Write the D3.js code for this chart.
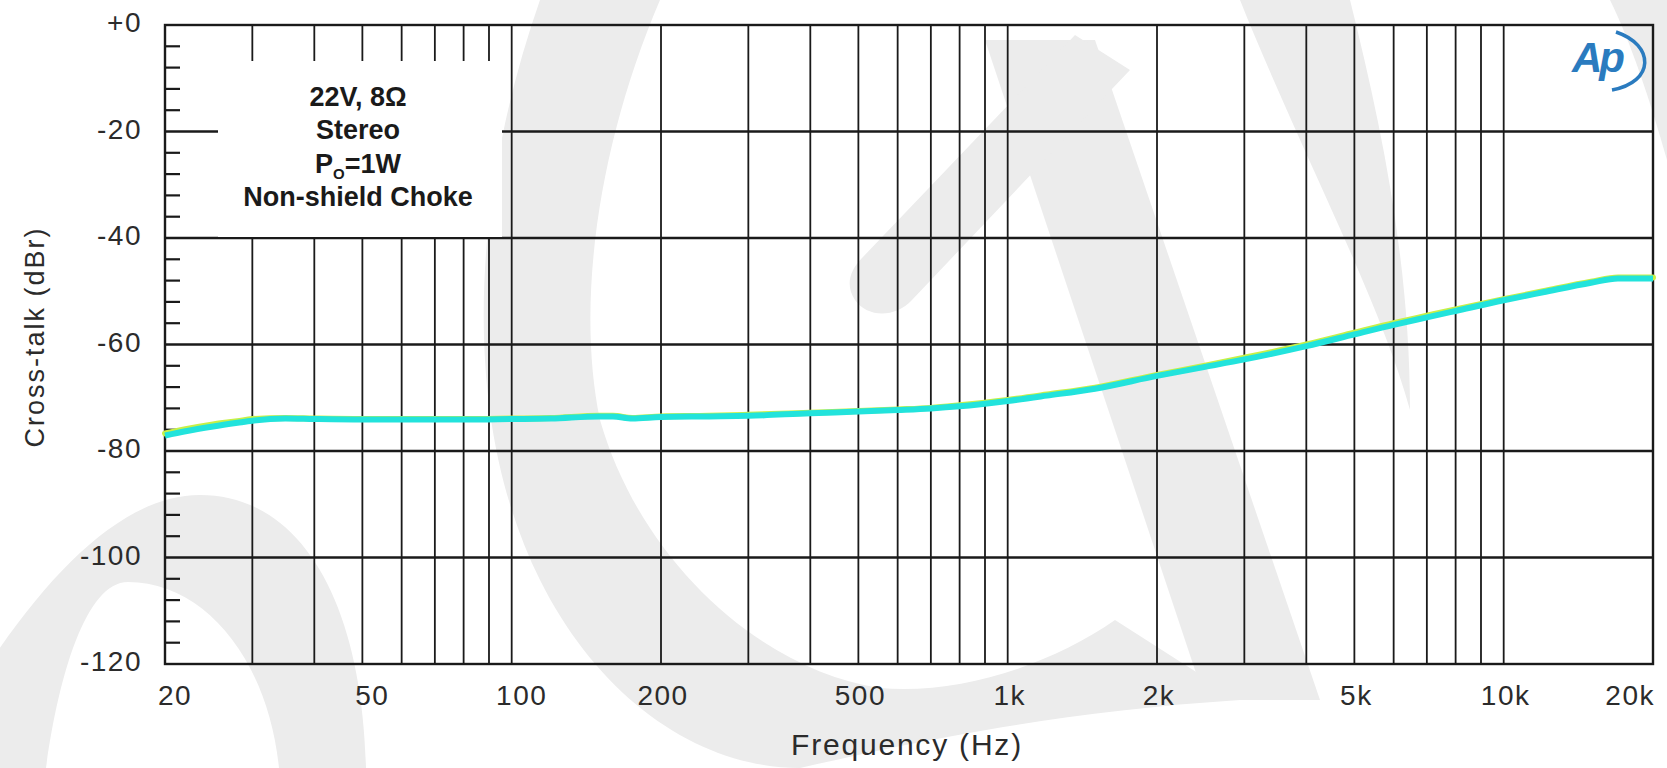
<!DOCTYPE html>
<html>
<head>
<meta charset="utf-8">
<script src="https://cdn.jsdelivr.net/npm/d3@7"></script>
<style>
  body { margin: 0; background: #fff; }
  svg { display: block; }
  text { font-family: "Liberation Sans", Arial, sans-serif; }
</style>
</head>
<body>
<svg id="chart" width="1667" height="768"></svg>
<script>
// ---- data ----
const freqs = [20, 22, 25, 28, 30, 35, 40, 50, 60, 80, 100, 120, 150, 160, 175, 200, 250, 300, 400, 500, 600, 700, 800, 1000, 1200, 1500, 2000, 2500, 3000, 4000, 5000, 6000, 7000, 8000, 10000, 12000, 15000, 17000, 20000];
// cyan trace (dBr)
const cyanDb = [-77.1, -76.3, -75.4, -74.7, -74.3, -73.9, -74.0, -74.1, -74.1, -74.1, -74.0, -73.9, -73.5, -73.5, -73.9, -73.6, -73.5, -73.4, -72.9, -72.6, -72.3, -72.0, -71.6, -70.6, -69.6, -68.3, -65.9, -64.2, -62.8, -60.3, -58.1, -56.3, -54.9, -53.7, -51.7, -50.2, -48.4, -47.6, -47.6];
// yellow-green trace (dBr), mostly hidden under the cyan one
const yellowDb = [-76.7, -75.9, -75.0, -74.4, -74.0, -73.8, -73.9, -74.0, -74.0, -74.0, -73.9, -73.8, -73.4, -73.4, -73.8, -73.5, -73.4, -73.2, -72.8, -72.5, -72.2, -71.9, -71.4, -70.4, -69.4, -68.1, -65.7, -64.0, -62.5, -60.0, -57.8, -56.0, -54.6, -53.4, -51.5, -50.0, -48.2, -47.4, -47.4];

const yTicks = [0, -20, -40, -60, -80, -100, -120];
const yTickLabels = ["+0", "-20", "-40", "-60", "-80", "-100", "-120"];
const xTicks = [20, 50, 100, 200, 500, 1000, 2000, 5000, 10000, 20000];
const xTickLabels = ["20", "50", "100", "200", "500", "1k", "2k", "5k", "10k", "20k"];
const infoLines = ["22V, 8\u03a9", "Stereo", "P|O|=1W", "Non-shield Choke"];

// ---- layout ----
const plotLeft = 165, plotRight = 1653, plotTop = 25, plotBottom = 664;

const svg = d3.select("#chart");

const x = d3.scaleLog().domain([20, 20000]).range([plotLeft, plotRight]);
const y = d3.scaleLinear().domain([0, -120]).range([plotTop, plotBottom]);

// watermark shapes in the background
const wm = svg.append("g").attr("fill", "#ececec");
wm.append("path").attr("d", "M -5,655 C 60,560 130,495 200,495 C 300,495 362,600 366,768 L 279,768 C 268,660 205,582 128,582 C 85,582 58,680 46,768 L -5,768 Z");
wm.append("path").attr("d", "M 540,0 C 470,200 460,420 540,580 C 600,700 700,768 800,768 C 900,745 1050,712 1240,700 L 1115,620 C 1050,665 960,695 880,688 C 760,670 640,560 600,420 C 575,300 600,140 660,0 Z");
wm.append("path").attr("d", "M 985,40 L 1095,40 L 1320,700 L 1205,700 Z");
wm.append("path").attr("d", "M 855,300 C 845,285 850,270 862,258 L 1075,35 L 1130,70 L 912,300 C 895,318 868,318 855,300 Z");
wm.append("path").attr("d", "M 1240,0 L 1350,0 C 1380,120 1410,260 1410,410 C 1380,300 1300,150 1240,0 Z");
wm.append("path").attr("d", "M 1610,0 L 1667,0 L 1667,160 C 1650,100 1630,40 1610,0 Z");

// ---- grid ----
const grid = svg.append("g").attr("stroke", "#1a1a1a");

const minorFreqs = [];
[10, 100, 1000, 10000].forEach(dec => {
  for (let m = 1; m <= 9; m++) {
    const f = dec * m;
    if (f > 20 && f <= 20000) minorFreqs.push(f);
  }
});

grid.selectAll(".vline")
  .data(minorFreqs)
  .join("line")
    .attr("class", "vline")
    .attr("x1", d => x(d)).attr("x2", d => x(d))
    .attr("y1", plotTop).attr("y2", plotBottom)
    .attr("stroke-width", 1.8);

grid.selectAll(".hline")
  .data(yTicks.filter(d => d != 0 && d != -120))
  .join("line")
    .attr("class", "hline")
    .attr("x1", plotLeft).attr("x2", plotRight)
    .attr("y1", d => y(d)).attr("y2", d => y(d))
    .attr("stroke-width", 2.4);

// small ticks every 4 dB on the left edge
const smallTicks = d3.range(0, -121, -4).filter(d => d % 20 != 0);
grid.selectAll(".ytick")
  .data(smallTicks)
  .join("line")
    .attr("class", "ytick")
    .attr("x1", plotLeft).attr("x2", plotLeft + 15)
    .attr("y1", d => y(d)).attr("y2", d => y(d))
    .attr("stroke-width", 2.2);

// frame
svg.append("rect")
  .attr("x", plotLeft).attr("y", plotTop)
  .attr("width", plotRight - plotLeft).attr("height", plotBottom - plotTop)
  .attr("fill", "none").attr("stroke", "#1a1a1a").attr("stroke-width", 2.4);

// white box behind the annotation
svg.append("rect")
  .attr("x", 218).attr("y", 61)
  .attr("width", 284).attr("height", y(-40) - 62)
  .attr("fill", "#fff");

// ---- traces ----
const line = (vals) => d3.line()
  .x((d, i) => x(freqs[i]))
  .y(d => y(d))
  .curve(d3.curveMonotoneX)(vals);

svg.append("path")
  .attr("d", line(yellowDb))
  .attr("fill", "none")
  .attr("stroke", "#c8f046")
  .attr("stroke-width", 6)
  .attr("stroke-linejoin", "round")
  .attr("stroke-linecap", "round");

svg.append("path")
  .attr("d", line(cyanDb))
  .attr("fill", "none")
  .attr("stroke", "#22e3dc")
  .attr("stroke-width", 6)
  .attr("stroke-linejoin", "round");

// ---- axis labels ----
svg.selectAll(".ylab")
  .data(yTicks)
  .join("text")
    .attr("class", "ylab")
    .attr("x", 142)
    .attr("y", d => y(d) - 3)
    .attr("dy", "0.36em")
    .attr("text-anchor", "end")
    .attr("font-size", 28)
    .attr("letter-spacing", 1.5)
    .attr("fill", "#2b2b2b")
    .text((d, i) => yTickLabels[i]);

svg.selectAll(".xlab")
  .data(xTicks)
  .join("text")
    .attr("class", "xlab")
    .attr("x", d => d == 20000 ? plotRight + 2 : x(d) + (d < 150 ? 10 : 2))
    .attr("y", 705)
    .attr("text-anchor", d => d == 20000 ? "end" : "middle")
    .attr("font-size", 28)
    .attr("letter-spacing", 1.5)
    .attr("fill", "#2b2b2b")
    .text((d, i) => xTickLabels[i]);

svg.append("text")
  .attr("x", 907).attr("y", 755)
  .attr("text-anchor", "middle")
  .attr("font-size", 30)
  .attr("letter-spacing", 1.8)
  .attr("fill", "#2b2b2b")
  .text("Frequency (Hz)");

svg.append("text")
  .attr("transform", "translate(44,337) rotate(-90)")
  .attr("text-anchor", "middle")
  .attr("font-size", 27)
  .attr("letter-spacing", 2)
  .attr("fill", "#2b2b2b")
  .text("Cross-talk (dBr)");

// ---- annotation ----
const info = svg.append("g")
  .attr("font-size", 27)
  .attr("font-weight", "bold")
  .attr("fill", "#1a1a1a")
  .attr("text-anchor", "middle");

infoLines.forEach((s, i) => {
  const t = info.append("text").attr("x", 358).attr("y", 106 + i * 33.3);
  if (s.indexOf("|") >= 0) {
    const parts = s.split("|");
    t.append("tspan").text(parts[0]);
    t.append("tspan").attr("font-size", 15).attr("dy", 6).text(parts[1]);
    t.append("tspan").attr("dy", -6).text(parts[2]);
  } else {
    t.text(s);
  }
});

// ---- Ap logo ----
svg.append("text")
  .attr("x", 1572).attr("y", 72)
  .attr("font-size", 42)
  .attr("font-style", "italic")
  .attr("font-weight", "bold")
  .attr("letter-spacing", -3)
  .attr("fill", "#2a7bbf")
  .text("Ap");
svg.append("path")
  .attr("d", "M 1616,32 C 1655,45 1655,82 1612,90")
  .attr("fill", "none")
  .attr("stroke", "#2a7bbf")
  .attr("stroke-width", 3.5);
</script>
</body>
</html>
